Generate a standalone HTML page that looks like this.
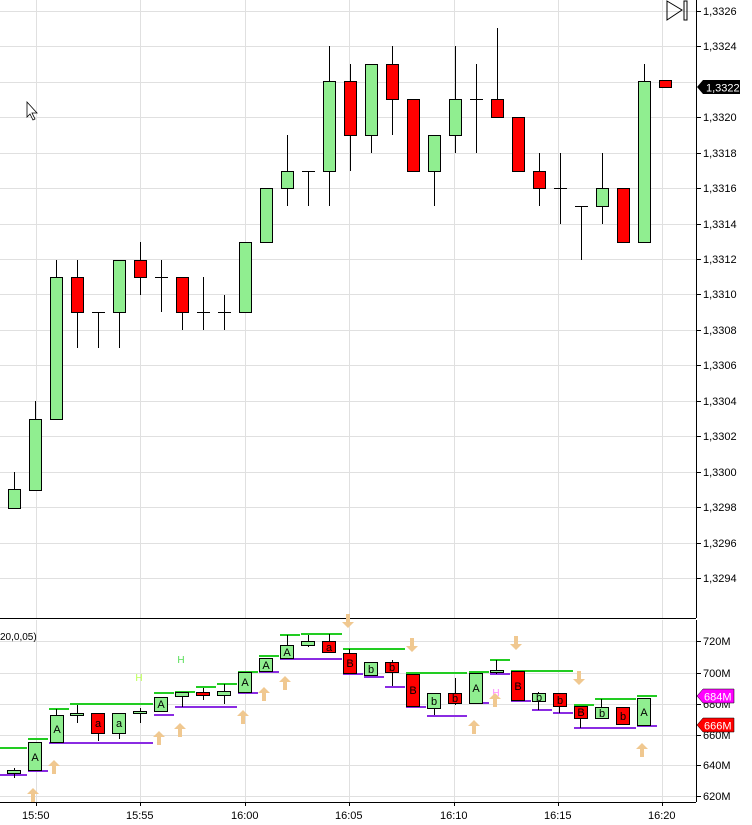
<!DOCTYPE html>
<html><head><meta charset="utf-8"><style>
body{margin:0;background:#fff;}
svg{display:block;font-family:"Liberation Sans",sans-serif;}
</style></head><body>
<svg width="752" height="825" viewBox="0 0 752 825" xmlns="http://www.w3.org/2000/svg">
<defs>
<polygon id="au" points="0,-7 6,-1 2,-1 2,7 -2,7 -2,-1 -6,-1" fill="#f0c890"/>
<polygon id="ad" points="0,7 6,1 2,1 2,-7 -2,-7 -2,1 -6,1" fill="#f0c890"/>
</defs>
<rect width="752" height="825" fill="#fff"/>
<g stroke="#e0e0e0" stroke-width="1">
<line x1="0" y1="11.5" x2="696" y2="11.5"/><line x1="0" y1="46.5" x2="696" y2="46.5"/><line x1="0" y1="82.5" x2="696" y2="82.5"/><line x1="0" y1="117.5" x2="696" y2="117.5"/><line x1="0" y1="153.5" x2="696" y2="153.5"/><line x1="0" y1="188.5" x2="696" y2="188.5"/><line x1="0" y1="224.5" x2="696" y2="224.5"/><line x1="0" y1="259.5" x2="696" y2="259.5"/><line x1="0" y1="294.5" x2="696" y2="294.5"/><line x1="0" y1="330.5" x2="696" y2="330.5"/><line x1="0" y1="365.5" x2="696" y2="365.5"/><line x1="0" y1="401.5" x2="696" y2="401.5"/><line x1="0" y1="436.5" x2="696" y2="436.5"/><line x1="0" y1="472.5" x2="696" y2="472.5"/><line x1="0" y1="507.5" x2="696" y2="507.5"/><line x1="0" y1="543.5" x2="696" y2="543.5"/><line x1="0" y1="578.5" x2="696" y2="578.5"/>
<line x1="36.5" y1="0" x2="36.5" y2="618"/><line x1="140.5" y1="0" x2="140.5" y2="618"/><line x1="245.5" y1="0" x2="245.5" y2="618"/><line x1="349.5" y1="0" x2="349.5" y2="618"/><line x1="454.5" y1="0" x2="454.5" y2="618"/><line x1="558.5" y1="0" x2="558.5" y2="618"/><line x1="662.5" y1="0" x2="662.5" y2="618"/>
<line x1="0" y1="641.5" x2="696" y2="641.5"/><line x1="0" y1="673.5" x2="696" y2="673.5"/><line x1="0" y1="704.5" x2="696" y2="704.5"/><line x1="0" y1="735.5" x2="696" y2="735.5"/><line x1="0" y1="765.5" x2="696" y2="765.5"/><line x1="0" y1="796.5" x2="696" y2="796.5"/>
<line x1="36.5" y1="620" x2="36.5" y2="802"/><line x1="140.5" y1="620" x2="140.5" y2="802"/><line x1="245.5" y1="620" x2="245.5" y2="802"/><line x1="349.5" y1="620" x2="349.5" y2="802"/><line x1="454.5" y1="620" x2="454.5" y2="802"/><line x1="558.5" y1="620" x2="558.5" y2="802"/><line x1="662.5" y1="620" x2="662.5" y2="802"/>
</g>
<g stroke="#000" stroke-width="1">
<line x1="14.5" y1="472" x2="14.5" y2="508"/><rect x="8.5" y="489.5" width="12" height="19" fill="#90ee90"/>
<line x1="35.5" y1="401" x2="35.5" y2="490"/><rect x="29.5" y="419.5" width="12" height="71" fill="#90ee90"/>
<line x1="56.5" y1="260" x2="56.5" y2="419"/><rect x="50.5" y="277.5" width="12" height="142" fill="#90ee90"/>
<line x1="77.5" y1="260" x2="77.5" y2="348"/><rect x="71.5" y="277.5" width="12" height="35" fill="#f00"/>
<line x1="98.5" y1="312" x2="98.5" y2="348"/><line x1="92" y1="312.5" x2="105" y2="312.5"/>
<line x1="119.5" y1="260" x2="119.5" y2="348"/><rect x="113.5" y="260.5" width="12" height="52" fill="#90ee90"/>
<line x1="140.5" y1="242" x2="140.5" y2="295"/><rect x="134.5" y="260.5" width="12" height="17" fill="#f00"/>
<line x1="161.5" y1="260" x2="161.5" y2="312"/><line x1="155" y1="277.5" x2="168" y2="277.5"/>
<line x1="182.5" y1="277" x2="182.5" y2="330"/><rect x="176.5" y="277.5" width="12" height="35" fill="#f00"/>
<line x1="203.5" y1="277" x2="203.5" y2="330"/><line x1="197" y1="312.5" x2="210" y2="312.5"/>
<line x1="224.5" y1="295" x2="224.5" y2="330"/><line x1="218" y1="312.5" x2="231" y2="312.5"/>
<rect x="239.5" y="242.5" width="12" height="70" fill="#90ee90"/>
<rect x="260.5" y="188.5" width="12" height="54" fill="#90ee90"/>
<line x1="287.5" y1="135" x2="287.5" y2="206"/><rect x="281.5" y="171.5" width="12" height="17" fill="#90ee90"/>
<line x1="308.5" y1="171" x2="308.5" y2="206"/><line x1="302" y1="171.5" x2="315" y2="171.5"/>
<line x1="329.5" y1="46" x2="329.5" y2="206"/><rect x="323.5" y="81.5" width="12" height="90" fill="#90ee90"/>
<line x1="350.5" y1="64" x2="350.5" y2="171"/><rect x="344.5" y="81.5" width="12" height="54" fill="#f00"/>
<line x1="371.5" y1="64" x2="371.5" y2="153"/><rect x="365.5" y="64.5" width="12" height="71" fill="#90ee90"/>
<line x1="392.5" y1="46" x2="392.5" y2="135"/><rect x="386.5" y="64.5" width="12" height="35" fill="#f00"/>
<rect x="407.5" y="99.5" width="12" height="72" fill="#f00"/>
<line x1="434.5" y1="135" x2="434.5" y2="206"/><rect x="428.5" y="135.5" width="12" height="36" fill="#90ee90"/>
<line x1="455.5" y1="46" x2="455.5" y2="153"/><rect x="449.5" y="99.5" width="12" height="36" fill="#90ee90"/>
<line x1="476.5" y1="64" x2="476.5" y2="153"/><line x1="470" y1="99.5" x2="483" y2="99.5"/>
<line x1="497.5" y1="28" x2="497.5" y2="117"/><rect x="491.5" y="99.5" width="12" height="18" fill="#f00"/>
<rect x="512.5" y="117.5" width="12" height="54" fill="#f00"/>
<line x1="539.5" y1="153" x2="539.5" y2="206"/><rect x="533.5" y="171.5" width="12" height="17" fill="#f00"/>
<line x1="560.5" y1="153" x2="560.5" y2="224"/><line x1="554" y1="188.5" x2="567" y2="188.5"/>
<line x1="581.5" y1="206" x2="581.5" y2="260"/><line x1="575" y1="206.5" x2="588" y2="206.5"/>
<line x1="602.5" y1="153" x2="602.5" y2="224"/><rect x="596.5" y="188.5" width="12" height="18" fill="#90ee90"/>
<rect x="617.5" y="188.5" width="12" height="54" fill="#f00"/>
<line x1="644.5" y1="64" x2="644.5" y2="242"/><rect x="638.5" y="81.5" width="12" height="161" fill="#90ee90"/>
<line x1="665.5" y1="81" x2="665.5" y2="88"/><rect x="659.5" y="80.5" width="12" height="7" fill="#f00"/>
</g>
<line x1="696.5" y1="0" x2="696.5" y2="618" stroke="#000"/>
<line x1="0" y1="618.5" x2="696" y2="618.5" stroke="#000"/>
<line x1="696.5" y1="620" x2="696.5" y2="802" stroke="#000"/>
<line x1="0" y1="802.5" x2="696" y2="802.5" stroke="#000"/>
<g stroke="#000">
<line x1="696" y1="11.5" x2="701" y2="11.5"/><line x1="696" y1="46.5" x2="701" y2="46.5"/><line x1="696" y1="117.5" x2="701" y2="117.5"/><line x1="696" y1="153.5" x2="701" y2="153.5"/><line x1="696" y1="188.5" x2="701" y2="188.5"/><line x1="696" y1="224.5" x2="701" y2="224.5"/><line x1="696" y1="259.5" x2="701" y2="259.5"/><line x1="696" y1="294.5" x2="701" y2="294.5"/><line x1="696" y1="330.5" x2="701" y2="330.5"/><line x1="696" y1="365.5" x2="701" y2="365.5"/><line x1="696" y1="401.5" x2="701" y2="401.5"/><line x1="696" y1="436.5" x2="701" y2="436.5"/><line x1="696" y1="472.5" x2="701" y2="472.5"/><line x1="696" y1="507.5" x2="701" y2="507.5"/><line x1="696" y1="543.5" x2="701" y2="543.5"/><line x1="696" y1="578.5" x2="701" y2="578.5"/>
<line x1="696" y1="641.5" x2="701" y2="641.5"/><line x1="696" y1="673.5" x2="701" y2="673.5"/><line x1="696" y1="704.5" x2="701" y2="704.5"/><line x1="696" y1="735.5" x2="701" y2="735.5"/><line x1="696" y1="765.5" x2="701" y2="765.5"/><line x1="696" y1="796.5" x2="701" y2="796.5"/>
<line x1="36.5" y1="802" x2="36.5" y2="806"/><line x1="140.5" y1="802" x2="140.5" y2="806"/><line x1="245.5" y1="802" x2="245.5" y2="806"/><line x1="349.5" y1="802" x2="349.5" y2="806"/><line x1="454.5" y1="802" x2="454.5" y2="806"/><line x1="558.5" y1="802" x2="558.5" y2="806"/><line x1="662.5" y1="802" x2="662.5" y2="806"/>
</g>
<g font-size="11" fill="#000">
<text x="703" y="15">1,3326</text><text x="703" y="50">1,3324</text><text x="703" y="121">1,3320</text><text x="703" y="157">1,3318</text><text x="703" y="192">1,3316</text><text x="703" y="228">1,3314</text><text x="703" y="263">1,3312</text><text x="703" y="298">1,3310</text><text x="703" y="334">1,3308</text><text x="703" y="369">1,3306</text><text x="703" y="405">1,3304</text><text x="703" y="440">1,3302</text><text x="703" y="476">1,3300</text><text x="703" y="511">1,3298</text><text x="703" y="547">1,3296</text><text x="703" y="582">1,3294</text>
<text x="703" y="645">720M</text><text x="703" y="677">700M</text><text x="703" y="708">680M</text><text x="703" y="739">660M</text><text x="703" y="769">640M</text><text x="703" y="800">620M</text>
<text x="22" y="819">15:50</text><text x="126" y="819">15:55</text><text x="231" y="819">16:00</text><text x="335" y="819">16:05</text><text x="440" y="819">16:10</text><text x="544" y="819">16:15</text><text x="648" y="819">16:20</text>
<text x="0" y="640" font-size="10">20,0,05)</text>
</g>
<polygon points="697,87 703,80 740,80 740,94 703,94" fill="#000"/>
<text x="706" y="91.5" font-size="11" fill="#fff">1,3322</text>
<polygon points="697,696 703,689 734,689 734,703 703,703" fill="#f0f" stroke="#000" stroke-width="0.5"/>
<text x="704" y="700.5" font-size="11" fill="#fff">684M</text>
<polygon points="697,725 703,718 734,718 734,732 703,732" fill="#f00" stroke="#000" stroke-width="0.5"/>
<text x="704" y="729.5" font-size="11" fill="#fff">666M</text>
<polygon points="667,1 682,10 667,20" fill="none" stroke="#000"/>
<rect x="684" y="1" width="3" height="19" fill="none" stroke="#000"/>
<polygon points="27,102 27,117 30,114 33,120 35,119 32,113 37,113" fill="#fff" stroke="#000" stroke-width="0.8"/>
<g stroke-width="2">
<g stroke="#2c2">
<line x1="0" y1="748" x2="27" y2="748"/><line x1="28" y1="739" x2="48" y2="739"/><line x1="49" y1="709" x2="69" y2="709"/><line x1="70" y1="704" x2="153" y2="704"/><line x1="154" y1="693" x2="174" y2="693"/><line x1="175" y1="692" x2="195" y2="692"/><line x1="196" y1="687" x2="216" y2="687"/><line x1="217" y1="684" x2="237" y2="684"/><line x1="238" y1="672" x2="258" y2="672"/><line x1="259" y1="656" x2="279" y2="656"/><line x1="280" y1="635" x2="300" y2="635"/><line x1="301" y1="634" x2="342" y2="634"/><line x1="343" y1="649" x2="405" y2="649"/><line x1="406" y1="673" x2="467" y2="673"/><line x1="469" y1="672" x2="489" y2="672"/><line x1="490" y1="660" x2="510" y2="660"/><line x1="511" y1="671" x2="573" y2="671"/><line x1="574" y1="705" x2="594" y2="705"/><line x1="595" y1="699" x2="636" y2="699"/><line x1="637" y1="696" x2="657" y2="696"/>
</g>
<g stroke="#8a2be2">
<line x1="0" y1="775" x2="27" y2="775"/><line x1="28" y1="771" x2="48" y2="771"/><line x1="49" y1="743" x2="153" y2="743"/><line x1="154" y1="715" x2="174" y2="715"/><line x1="175" y1="707" x2="237" y2="707"/><line x1="238" y1="693" x2="258" y2="693"/><line x1="259" y1="672" x2="279" y2="672"/><line x1="280" y1="659" x2="342" y2="659"/><line x1="343" y1="674" x2="363" y2="674"/><line x1="364" y1="677" x2="384" y2="677"/><line x1="385" y1="687" x2="405" y2="687"/><line x1="406" y1="707" x2="426" y2="707"/><line x1="427" y1="716" x2="467" y2="716"/><line x1="469" y1="703" x2="489" y2="703"/><line x1="490" y1="674" x2="510" y2="674"/><line x1="511" y1="701" x2="531" y2="701"/><line x1="532" y1="710" x2="552" y2="710"/><line x1="553" y1="713" x2="573" y2="713"/><line x1="574" y1="728" x2="636" y2="728"/><line x1="637" y1="726" x2="657" y2="726"/>
</g>
</g>
<g stroke="#000" stroke-width="1">
<line x1="14.5" y1="768" x2="14.5" y2="778"/><rect x="7.5" y="770.5" width="13" height="3" fill="#90ee90"/>
<rect x="28.5" y="742.5" width="13" height="28" fill="#90ee90"/>
<line x1="56.5" y1="709" x2="56.5" y2="715"/><rect x="50.5" y="715.5" width="13" height="27" fill="#90ee90"/>
<line x1="77.5" y1="705" x2="77.5" y2="723"/><rect x="70.5" y="713.5" width="13" height="2" fill="#90ee90"/>
<line x1="98.5" y1="733" x2="98.5" y2="741"/><rect x="91.5" y="713.5" width="13" height="20" fill="#f00"/>
<line x1="119.5" y1="733" x2="119.5" y2="739"/><rect x="112.5" y="713.5" width="13" height="20" fill="#90ee90"/>
<line x1="140.5" y1="708" x2="140.5" y2="723"/><rect x="133.5" y="711.5" width="13" height="2" fill="#90ee90"/>
<rect x="154.5" y="697.5" width="13" height="14" fill="#90ee90"/>
<line x1="182.5" y1="692" x2="182.5" y2="707"/><rect x="175.5" y="692.5" width="13" height="4" fill="#90ee90"/>
<line x1="203.5" y1="688" x2="203.5" y2="700"/><rect x="196.5" y="692.5" width="13" height="3" fill="#f00"/>
<line x1="224.5" y1="684" x2="224.5" y2="704"/><rect x="217.5" y="691.5" width="13" height="4" fill="#90ee90"/>
<rect x="238.5" y="672.5" width="13" height="20" fill="#90ee90"/>
<rect x="259.5" y="658.5" width="13" height="13" fill="#90ee90"/>
<line x1="287.5" y1="635" x2="287.5" y2="645"/><rect x="280.5" y="645.5" width="13" height="13" fill="#90ee90"/>
<line x1="308.5" y1="635" x2="308.5" y2="647"/><rect x="301.5" y="641.5" width="13" height="4" fill="#90ee90"/>
<line x1="329.5" y1="634" x2="329.5" y2="641"/><rect x="322.5" y="641.5" width="13" height="11" fill="#f00"/>
<line x1="349.5" y1="649" x2="349.5" y2="653"/><rect x="343.5" y="653.5" width="13" height="20" fill="#f00"/>
<rect x="364.5" y="662.5" width="13" height="13" fill="#90ee90"/>
<line x1="392.5" y1="660" x2="392.5" y2="686"/><rect x="385.5" y="662.5" width="13" height="10" fill="#f00"/>
<rect x="406.5" y="674.5" width="13" height="32" fill="#f00"/>
<line x1="434.5" y1="708" x2="434.5" y2="715"/><rect x="427.5" y="693.5" width="13" height="15" fill="#90ee90"/>
<line x1="455.5" y1="678" x2="455.5" y2="705"/><rect x="448.5" y="693.5" width="13" height="10" fill="#f00"/>
<rect x="469.5" y="673.5" width="13" height="30" fill="#90ee90"/>
<line x1="496.5" y1="660" x2="496.5" y2="674"/><rect x="490.5" y="670.5" width="13" height="2" fill="#90ee90"/>
<rect x="511.5" y="671.5" width="13" height="29" fill="#f00"/>
<line x1="538.5" y1="692" x2="538.5" y2="710"/><rect x="532.5" y="693.5" width="13" height="8" fill="#90ee90"/>
<line x1="559.5" y1="706" x2="559.5" y2="713"/><rect x="553.5" y="693.5" width="13" height="13" fill="#f00"/>
<line x1="580.5" y1="718" x2="580.5" y2="728"/><rect x="574.5" y="706.5" width="13" height="12" fill="#f00"/>
<line x1="601.5" y1="699" x2="601.5" y2="707"/><rect x="595.5" y="707.5" width="13" height="11" fill="#90ee90"/>
<rect x="616.5" y="707.5" width="13" height="17" fill="#f00"/>
<rect x="637.5" y="698.5" width="13" height="27" fill="#90ee90"/>
</g>
<g font-size="11" fill="#000" text-anchor="middle">
<text x="35" y="761">A</text><text x="57" y="733">A</text><text x="98" y="727">a</text><text x="119" y="727">a</text><text x="161" y="708">A</text><text x="245" y="686">A</text><text x="266" y="669">A</text><text x="287" y="656">A</text><text x="329" y="651">a</text><text x="350" y="667">B</text><text x="371" y="673">b</text><text x="392" y="671">b</text><text x="413" y="694">B</text><text x="434" y="705">b</text><text x="455" y="702">b</text><text x="476" y="692">A</text><text x="518" y="690">B</text><text x="539" y="701">b</text><text x="560" y="704">b</text><text x="581" y="716">B</text><text x="602" y="717">b</text><text x="623" y="720">b</text><text x="644" y="716">A</text>
<text x="139" y="681" fill="#bf5" font-size="10">H</text><text x="181" y="663" fill="#5d5" font-size="10">H</text><text x="496" y="696" fill="#f8f" font-size="10">H</text>
</g>
<use href="#au" x="33" y="795"/><use href="#au" x="54" y="767"/><use href="#au" x="159" y="738"/><use href="#au" x="180" y="730"/><use href="#au" x="243" y="717"/><use href="#au" x="264" y="694"/><use href="#au" x="285" y="683"/><use href="#au" x="474" y="727"/><use href="#au" x="495" y="700"/><use href="#au" x="642" y="750"/>
<use href="#ad" x="348" y="621"/><use href="#ad" x="412" y="645"/><use href="#ad" x="516" y="643"/><use href="#ad" x="579" y="678"/>
</svg>
</body></html>
